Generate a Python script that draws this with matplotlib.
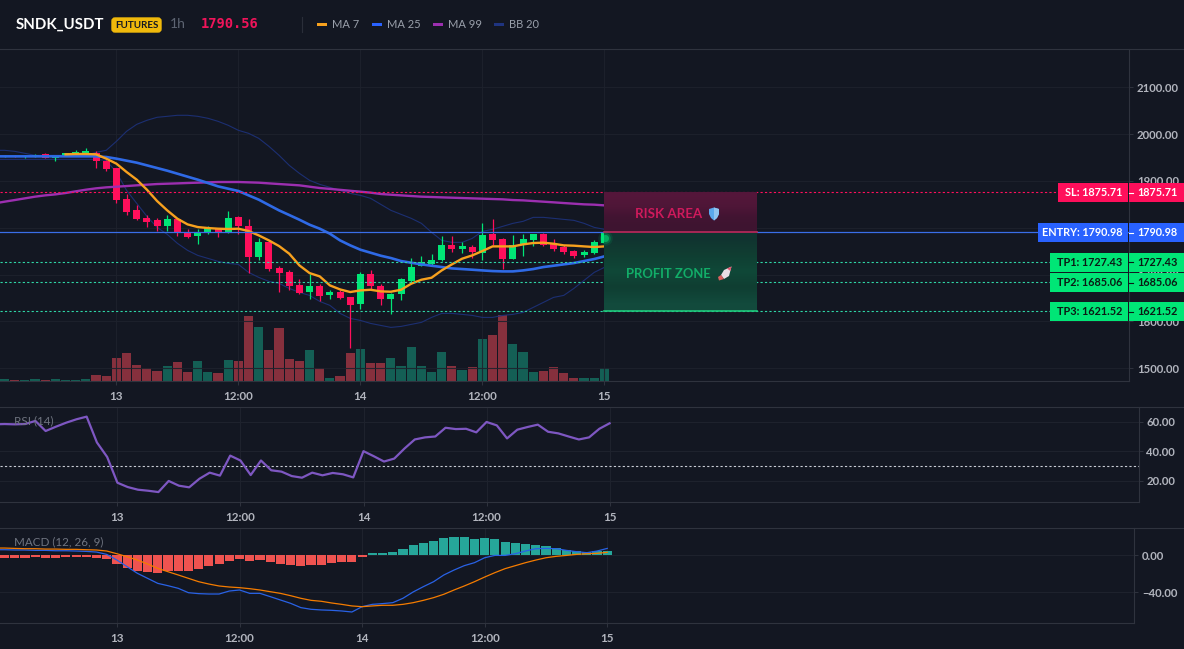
import matplotlib

matplotlib.use("Agg")
import matplotlib.pyplot as plt
import numpy as np
from matplotlib.lines import Line2D
from matplotlib.patches import FancyBboxPatch, Polygon, Rectangle
from matplotlib.transforms import Affine2D

W, H = 1184, 649
BG = "#131722"
GRID = "#1e222d"
AXIS = "#2f333e"
LABEL = "#b2b5be"
GREEN = "#00e676"
RED = "#ff0f5b"
BLUE = "#2962ff"
FONT = ["Lato", "DejaVu Sans"]

# hours relative to midnight on the 13th
CANDLE_HOURS = np.arange(-11, 49)
LINE_HOURS = np.arange(-12, 49)
TICK_HOURS = [0, 12, 24, 36, 48]
TICK_LABELS = ["13", "12:00", "14", "12:00", "15"]
PRICE_TICKS = [1500, 1600, 1700, 1800, 1900, 2000, 2100]

SYMBOL = "SNDK_USDT"
LAST_PRICE = 1790.56
SL = 1875.71
ENTRY = 1790.98
TP1 = 1727.43
TP2 = 1685.06
TP3 = 1621.52

opens = [1953, 1954, 1952, 1954, 1958.2, 1948.3, 1954, 1955, 1956, 1960.4, 1941.9, 1927.6,
         1862.1, 1837.1, 1820.8, 1815.8, 1803, 1819.3, 1790.1, 1781.6, 1790.1, 1797.3, 1788.7, 1822.2,
         1804.4, 1736.7, 1768.8, 1713.2, 1704.7, 1676.9, 1661.9, 1674.8, 1655.5, 1661.9, 1651.2, 1636.3,
         1700.4, 1674.8, 1647, 1657.6, 1686.9, 1718.9, 1723.2, 1730.3, 1762.4, 1755.2, 1758.8, 1746,
         1785.9, 1775.2, 1732.5, 1762.4, 1773, 1787.3, 1764.5, 1758.8, 1749.5, 1741, 1746, 1767]
highs = [1955, 1956, 1955, 1957, 1959, 1953, 1960, 1965.4, 1971, 1964, 1945.4, 1927.6,
         1872.8, 1847.8, 1826.5, 1821.5, 1826.5, 1821.5, 1796.6, 1796.6, 1803, 1800.1, 1835, 1824.3,
         1818.6, 1778.7, 1774.5, 1717.5, 1710.3, 1689.7, 1700.4, 1680.5, 1666.2, 1667.6, 1652, 1704.7,
         1708.9, 1679, 1660.5, 1693.3, 1735.3, 1740.3, 1744.6, 1781.6, 1781.6, 1768.8, 1762.4, 1810.8,
         1817.9, 1778.7, 1783.7, 1785.9, 1786, 1788.7, 1775.2, 1762.4, 1751.7, 1751.7, 1773, 1792]
lows = [1951, 1952, 1950, 1952, 1948, 1942.6, 1953, 1954, 1955, 1927.6, 1921.2, 1853.5,
        1827.2, 1815.8, 1800.8, 1793, 1792.3, 1781.6, 1778, 1764.5, 1785.9, 1780.2, 1788.7, 1785.9,
        1703.2, 1731.7, 1707.5, 1661.9, 1667.6, 1657.6, 1647, 1643.4, 1648.4, 1648.4, 1543, 1626.3,
        1669.1, 1634.2, 1615.6, 1644.8, 1681.9, 1717.5, 1720.3, 1728.9, 1747.4, 1746, 1735.3, 1730.3,
        1762.4, 1711, 1732.5, 1738.9, 1760, 1760.2, 1750.3, 1744.6, 1735.3, 1737.5, 1744.6, 1765]
closes = [1954, 1953, 1954, 1956, 1948.3, 1952.5, 1959, 1962, 1963, 1941.9, 1926.2, 1858.5,
          1834.3, 1817.9, 1812.9, 1803, 1817.9, 1789.4, 1779.4, 1791.6, 1799.4, 1788.7, 1821.5, 1803,
          1736.7, 1768.8, 1711.8, 1702.5, 1675.5, 1661.2, 1674.7, 1654.8, 1661.9, 1650.5, 1634.2, 1700.4,
          1674.8, 1647, 1657.6, 1689.7, 1716.8, 1726, 1730.3, 1762.4, 1755.2, 1760.2, 1747.4, 1783.7,
          1773, 1732.5, 1762.4, 1775.2, 1785.9, 1762.4, 1755.2, 1747.4, 1738.9, 1747.4, 1769.5, 1790.56]
volumes = [2.3, 1.2, 1.2, 2, 1, 2, 1.2, 1, 2, 6, 5, 23,
           28, 16, 13.5, 10, 15, 19, 9, 20, 9, 8, 21, 20,
           65, 54, 31, 53, 22, 20, 31, 13, 3, 5, 28, 32,
           18, 18, 23, 15, 34, 15, 9, 29, 15, 11, 14, 42,
           46, 66, 37, 29, 9, 10, 14, 8, 3, 3, 3, 13]

ma7_hours = np.arange(-5, 49)
ma7 = [1956.8, 1957.5, 1957.5, 1956.8, 1947.6, 1936.9, 1919.1, 1902.7, 1881.3, 1857.1, 1837.1, 1819.3,
       1807.2, 1801.5, 1799.4, 1798, 1797.3, 1798, 1793, 1783.7, 1773, 1760.9, 1744.6, 1719.6,
       1703.2, 1696.1, 1676.9, 1668.3, 1662.7, 1666.2, 1667.6, 1664.1, 1663.4, 1667.6, 1680.5, 1689,
       1693.3, 1709, 1721.8, 1733.9, 1741, 1750.3, 1760.2, 1760.2, 1760.2, 1764.5, 1767.4, 1768.1,
       1765.9, 1762.4, 1761.7, 1760.2, 1758.8, 1760.2]
ma25 = [1952.5, 1952.5, 1952.5, 1952.5, 1952.5, 1952.5, 1952.5, 1952.5, 1952.5, 1952.5, 1952.5, 1951.1,
        1947.6, 1943.3, 1939, 1933.3, 1927.6, 1921.9, 1915.5, 1909.1, 1902.7, 1895.6, 1888.4, 1883.4,
        1878.5, 1869.2, 1860, 1848.5, 1837.1, 1827.2, 1817.2, 1806.5, 1798, 1787.3, 1773, 1762.4,
        1753.1, 1746.7, 1740.3, 1735.3, 1728.9, 1725.3, 1721.8, 1718.9, 1716.1, 1713.2, 1711.8, 1710.4,
        1708.9, 1707.5, 1706.8, 1706.8, 1708.9, 1711.8, 1716.1, 1718.9, 1721.8, 1724.6, 1728.9, 1733.2,
        1738.9]
ma99 = [1852, 1855.7, 1859.2, 1862.8, 1866.4, 1869.2, 1871.3, 1874.2, 1877.8, 1881.3, 1884.2, 1886.3,
        1887.7, 1889.1, 1890.6, 1892, 1893.4, 1894.1, 1894.8, 1895.6, 1896.3, 1897, 1897.7, 1897.7,
        1897.7, 1897, 1896.3, 1894.8, 1893.4, 1892, 1890.6, 1887.7, 1884.9, 1883, 1881, 1879,
        1877, 1875, 1872.1, 1870.6, 1869.2, 1867.8, 1866.4, 1865.7, 1864.9, 1864.2, 1863.5, 1862.8,
        1862.1, 1861.4, 1860.7, 1859.2, 1858.5, 1857.1, 1855.7, 1854.3, 1852.8, 1851.4, 1850, 1849.3,
        1847.8]
bb_upper = [1965.4, 1965.4, 1963.2, 1959, 1954.7, 1954.7, 1954.7, 1954.7, 1954.7, 1954.7, 1961.1, 1965.4,
            1984.6, 2006, 2020.9, 2029.5, 2035.9, 2038, 2040.2, 2040.2, 2038, 2033.8, 2027.3, 2018.8,
            2008.1, 2001.7, 1991, 1973.9, 1954.7, 1933.3, 1916.2, 1901.3, 1892.7, 1886.3, 1879.9, 1873.4,
            1869.2, 1862.8, 1850, 1837.2, 1828.6, 1820.1, 1809.4, 1790.2, 1773.1, 1768.8, 1768.8, 1777.3,
            1792.3, 1796.6, 1803, 1809.4, 1813.7, 1822.2, 1822.2, 1820.1, 1817.9, 1815.8, 1809.4, 1800.8,
            1796.6]
bb_lower = [1946.1, 1946.1, 1946.1, 1946.1, 1946.1, 1946.1, 1946.1, 1946.1, 1946.1, 1946.1, 1946.1, 1944,
            1918.4, 1879.9, 1852.1, 1824.4, 1800.8, 1785.9, 1766.7, 1751.7, 1741, 1734.6, 1728.2, 1723.9,
            1721.8, 1704.7, 1694, 1685.5, 1681.2, 1670.5, 1661.9, 1655.5, 1642.7, 1634.2, 1617.1, 1606.4,
            1602.1, 1595.7, 1591.4, 1587.2, 1589.3, 1593.6, 1597.9, 1608.5, 1617.1, 1617.1, 1615, 1612.8,
            1608.5, 1608.5, 1612.8, 1615, 1619.2, 1629.9, 1640.6, 1651.3, 1655.5, 1670.5, 1687.6, 1704.7,
            1715.4]

rsi = [58.2, 58.4, 58.2, 58.4, 60.5, 53.7, 56.6, 59.3, 61.6, 63.4, 46, 36.2,
       18.8, 15.9, 14.1, 13.4, 12.5, 20, 16.8, 15.7, 21.5, 25.6, 23.6, 37.1,
       33.8, 24, 33.8, 27.2, 26.3, 23.3, 22.2, 25.6, 23.8, 25.4, 24.5, 22.4,
       40.1, 36.7, 33.1, 35.1, 41.9, 48, 49.4, 50, 55.9, 55, 55.2, 52.8,
       59.8, 57.5, 48.7, 54.6, 56.4, 58, 53.2, 52.1, 50, 48, 49.4, 55.2, 58.9]
RSI_TICKS = [20, 40, 60]
RSI_LEVEL = 30

macd_line = [5.7, 5.7, 5.4, 5.4, 5, 5, 4.6, 4.6, 4.3, 3.9, 3.2, 0.7,
             -5.4, -12.5, -19.6, -25, -30.4, -32.9, -35.7, -40.4, -41.4, -41.8, -41.8, -38.6,
             -37.5, -41.1, -41.1, -44.6, -48.2, -51.8, -56.4, -58.2, -58.9, -59.3, -60, -61.1,
             -55.4, -52.9, -52.1, -51.1, -46.4, -39.6, -33.9, -28.6, -21.4, -16.1, -11.4, -8.2,
             -2.9, -0.4, -0.4, 1.4, 4.3, 6.8, 7.1, 6.8, 5, 3.6, 2.5, 4.3, 7.1]
signal_line = [7.5, 7.5, 7.1, 6.8, 6.8, 6.4, 6.4, 6.1, 6.1, 5.7, 5.4, 4.3,
               1.4, -1.8, -5.4, -9.6, -14.3, -17.9, -21.4, -25, -28.6, -31.1, -33.2, -34.3,
               -35, -36.1, -37.5, -39.3, -41.1, -43.6, -46.4, -48.6, -49.6, -51.4, -52.9, -54.6,
               -55.4, -54.6, -53.9, -53.9, -52.9, -51.1, -48.6, -45.7, -42.1, -37.5, -33.2, -28.6,
               -23.6, -18.9, -14.6, -11.4, -8.2, -5.4, -2.9, -1.4, -0.4, 0.7, 1.4, 1.8, 2.9]
macd_hist = [-2.9, -2.9, -2.9, -2.1, -2.9, -2.9, -2.1, -2.1, -2.1, -2.9, -4.3, -9.6,
             -13.9, -16.8, -17.9, -19.3, -17.1, -16.8, -16.8, -15, -11.4, -9.6, -6.4, -4.3,
             -6.4, -5.4, -7.1, -9.6, -10.7, -11.8, -10.7, -10.7, -8.2, -7.1, -7.1, -1.8,
             1.8, 1.8, 3.2, 6.1, 10.4, 12.9, 15, 18.2, 18.9, 18.9, 16.8, 17.9,
             16.8, 13.6, 12.5, 11.4, 10.7, 9.3, 7.5, 5.7, 4.3, 3.6, 3.9, 3.9]
MACD_TICKS = [-40, 0]

XLIM = (-11.45, 99.6)

# top-left pixel coordinates for the header and price tags
PX = Affine2D().scale(1, -1).translate(0, H)


def pane(fig, left, right, top, bottom, ylim, yticks, fmt="{:.2f}"):
    ax = fig.add_axes([left / W, 1 - bottom / H, (right - left) / W, (bottom - top) / H])
    ax.set_xlim(*XLIM)
    ax.set_ylim(*ylim)
    ax.set_facecolor(BG)
    ax.set_xticks(TICK_HOURS, TICK_LABELS)
    ax.set_yticks(yticks, [fmt.format(t).replace("-", "\u2212") for t in yticks])
    ax.yaxis.tick_right()
    ax.grid(True, color=GRID, lw=0.8)
    ax.set_axisbelow(True)
    for s in ("left", "top"):
        ax.spines[s].set_visible(False)
    for s in ("right", "bottom"):
        ax.spines[s].set_color(AXIS)
        ax.spines[s].set_linewidth(0.8)
    ax.tick_params(axis="y", length=3, width=0.7, color=AXIS, labelcolor=LABEL, labelsize=8.2, pad=2.6)
    ax.tick_params(axis="x", length=3, width=0.7, color=AXIS, labelcolor=LABEL, labelsize=8.4, pad=4.2)
    for t in ax.get_xticklabels() + ax.get_yticklabels():
        t.set_family(FONT)
        t.set_fontweight("bold")
    return ax


def px_text(fig, x, y, s, **kw):
    kw.setdefault("family", FONT)
    kw.setdefault("va", "center")
    kw.setdefault("zorder", 8)
    fig.text(x, y, s, transform=PX, **kw)


def px_rect(fig, x0, y0, x1, y1, color, zorder=6):
    fig.add_artist(Rectangle((x0, y0), x1 - x0, y1 - y0, transform=PX, fc=color, ec="none", zorder=zorder))


def px_line(fig, xs, ys, color, lw=0.8, zorder=6):
    fig.add_artist(Line2D(xs, ys, transform=PX, color=color, lw=lw, zorder=zorder))


def draw_volume(ax):
    colors = ["#145f55" if c >= o else "#86303d" for o, c in zip(opens, closes)]
    ax.bar(CANDLE_HOURS, volumes, width=0.9, color=colors, zorder=1)


def draw_candles(ax):
    up = np.array(closes) >= np.array(opens)
    colors = np.where(up, GREEN, RED)
    ax.vlines(CANDLE_HOURS, lows, highs, colors=colors, lw=0.9, zorder=4)
    bottoms = np.minimum(opens, closes)
    heights = np.abs(np.array(closes) - np.array(opens))
    ax.bar(CANDLE_HOURS, heights, bottom=bottoms, width=0.7, color=colors, zorder=4)


def draw_zones(ax):
    end = TICK_HOURS[-1] + 15
    start = TICK_HOURS[-1]
    risk = np.array([[[84, 22, 58]], [[78, 22, 55]], [[66, 20, 50]], [[62, 20, 48]]], dtype=np.uint8)
    profit = np.array([[[16, 52, 48]], [[16, 62, 50]], [[15, 72, 56]], [[15, 62, 50]], [[18, 74, 60]]],
                      dtype=np.uint8)
    ax.imshow(risk, extent=(start, end, ENTRY, SL), aspect="auto", interpolation="bilinear", zorder=6)
    ax.imshow(profit, extent=(start, end, TP3, ENTRY), aspect="auto", interpolation="bilinear", zorder=6)
    ax.set_xlim(*XLIM)
    ax.set_ylim(1472.7, 2181.8)
    ax.plot([start, end], [ENTRY, ENTRY], color="#c2255c", lw=1.2, zorder=7)
    ax.plot([start, end], [TP3, TP3], color="#1fc97c", lw=1.2, zorder=7)
    # glow of the live candle sits above the zones
    mid = (opens[-1] + closes[-1]) / 2
    for s, a in ((110, 0.10), (60, 0.22), (26, 0.55)):
        ax.scatter([CANDLE_HOURS[-1] + 0.1], [mid], s=s, color=GREEN, alpha=a, lw=0, zorder=8)


def draw_icons(fig):
    shield = np.array([[-5, -5], [0, -6.5], [5, -5], [5, 0], [3, 4], [0, 6.5], [-3, 4], [-5, 0]]) + [714, 214]
    fig.add_artist(Polygon(shield, transform=PX, fc="#5aa8ec", ec="none", zorder=8))
    half = np.array([[0, -6.5], [5, -5], [5, 0], [3, 4], [0, 6.5]]) + [714, 214]
    fig.add_artist(Polygon(half, transform=PX, fc="#8fc4f0", ec="none", zorder=8))
    body = np.array([[6.5, -6.5], [4, 3], [-1, 6], [-4, 2], [-1, -3]]) + [725, 273]
    fig.add_artist(Polygon(body, transform=PX, fc="#e8dfe4", ec="none", zorder=8))
    nose = np.array([[6.5, -6.5], [5.4, -2], [2, -4.5]]) + [725, 273]
    fig.add_artist(Polygon(nose, transform=PX, fc="#e0566f", ec="none", zorder=8))
    fins = np.array([[-4, 2], [-1, 6], [-6, 7.5], [-7, 4]]) + [725, 273]
    fig.add_artist(Polygon(fins, transform=PX, fc="#d9605e", ec="none", zorder=8))


def draw_header(fig):
    px_text(fig, 16, 24.5, SYMBOL, color="white", fontsize=10.8, fontweight="bold")
    fig.add_artist(FancyBboxPatch((112, 18), 49, 14, boxstyle="round,pad=0,rounding_size=3",
                                  transform=PX, fc="#f0b90b", ec="#f0b90b", lw=1, zorder=6))
    px_text(fig, 136.5, 25, "FUTURES", color="#131722", fontsize=7, fontweight="bold", ha="center")
    px_text(fig, 170, 24.5, "1h", color="#5d6472", fontsize=10)
    px_text(fig, 201, 24.5, f"{LAST_PRICE:.2f}", color="#f0145a", fontsize=9.9, fontweight="bold",
            family=["DejaVu Sans Mono"])
    px_line(fig, [301.5, 301.5], [17, 32], "#2a2e39")
    legend = [("MA 7", 317, "#f7a11e"), ("MA 25", 372, BLUE), ("MA 99", 433, "#9c2fb0"), ("BB 20", 494, "#1f3480")]
    for name, x, color in legend:
        px_rect(fig, x, 23, x + 10, 25.5, color)
        px_text(fig, x + 15, 24, name, color="#9aa0ab", fontsize=8)


def draw_tags(fig):
    tags = [("SL", SL, RED, "white", 1058, 192.5),
            ("ENTRY", ENTRY, BLUE, "white", 1038, 232.5),
            ("TP1", TP1, GREEN, "#0b1a14", 1050, 262.3),
            ("TP2", TP2, GREEN, "#0b1a14", 1050, 282.8),
            ("TP3", TP3, GREEN, "#0b1a14", 1050, 311.5)]
    for name, value, bg, fg, left, yc in tags:
        px_rect(fig, left, yc - 9.5, 1127.5, yc + 9.5, bg)
        px_rect(fig, 1128.5, yc - 9.5, W, yc + 9.5, bg)
        px_text(fig, 1122, yc, f"{name}: {value:.2f}", color=fg, fontsize=7.8, fontweight="bold", ha="right")
        px_text(fig, 1137, yc, f"{value:.2f}", color=fg, fontsize=7.8, fontweight="bold")
        px_line(fig, [1128.5, 1132.5], [yc, yc], fg, lw=0.8, zorder=7)


def main():
    fig = plt.figure(figsize=(W / 100, H / 100), dpi=100, facecolor=BG)

    # volume lives on its own scale underneath the price axes
    ylim = (1472.7, 2181.8)
    vol = fig.add_axes([0, 1 - 381 / H, 1129 / W, 332 / H], zorder=1)
    vol.set_xlim(*XLIM)
    vol.set_ylim(0, 332)
    vol.set_facecolor(BG)
    vol.axis("off")
    draw_volume(vol)

    ax = pane(fig, 0, 1129, 49, 381, ylim, PRICE_TICKS)
    ax.set_zorder(2)
    ax.patch.set_visible(False)
    ax.grid(True, color=GRID, lw=0.8, alpha=0.9)

    ax.plot(LINE_HOURS, bb_upper, color="#1c2f72", lw=0.8, zorder=3)
    ax.plot(LINE_HOURS, bb_lower, color="#1c2f72", lw=0.8, zorder=3)
    draw_candles(ax)
    ax.plot(LINE_HOURS, ma99, color="#9c2fb0", lw=1.7, zorder=5, solid_joinstyle="round")
    ax.plot(LINE_HOURS, ma25, color="#2f6ae6", lw=1.9, zorder=5, solid_joinstyle="round")
    ax.plot(ma7_hours, ma7, color="#f7a11e", lw=1.7, zorder=5, solid_joinstyle="round")

    ax.axhline(SL, color=RED, lw=0.8, ls=(0, (2, 2)), zorder=5)
    ax.axhline(ENTRY, color="#3a6ee8", lw=0.9, zorder=5)
    for tp in (TP1, TP2, TP3):
        ax.axhline(tp, color="#2fd6a6", lw=0.8, ls=(0, (2, 2)), zorder=5)
    draw_zones(ax)

    px_text(fig, 669, 214, "RISK AREA", color="#cf1a5c", fontsize=9.6, fontweight="bold", ha="center")
    px_text(fig, 668.5, 274, "PROFIT ZONE", color="#12ad68", fontsize=9.4, fontweight="bold", ha="center")
    draw_icons(fig)

    rsi_ax = pane(fig, 0, 1138.7, 407, 502, (5.8, 69.9), RSI_TICKS)
    rsi_ax.plot(LINE_HOURS, rsi, color="#7e57c2", lw=1.6, zorder=3)
    rsi_ax.axhline(RSI_LEVEL, color="#c8ccd4", lw=0.8, ls=(0, (2, 2)), zorder=2)

    macd_ax = pane(fig, 0, 1134.3, 528, 623, (-72.9, 29), MACD_TICKS)
    bar_colors = ["#26a69a" if v >= 0 else "#ef5350" for v in macd_hist]
    macd_ax.bar(CANDLE_HOURS, macd_hist, width=0.9, color=bar_colors, zorder=2)
    macd_ax.plot(LINE_HOURS, macd_line, color="#2962e6", lw=0.9, zorder=3)
    macd_ax.plot(LINE_HOURS, signal_line, color="#f57c00", lw=0.9, zorder=3)

    px_text(fig, 14, 421, "RSI (14)", color="#6f7480", fontsize=8.4)
    px_text(fig, 14, 542, "MACD (12, 26, 9)", color="#6f7480", fontsize=8.4)

    for y in (48.5, 407, 528):
        px_line(fig, [0, W], [y, y], AXIS)

    draw_header(fig)
    draw_tags(fig)

    fig.savefig("out.png", dpi=100, facecolor=BG)
    plt.close(fig)


if __name__ == "__main__":
    main()
